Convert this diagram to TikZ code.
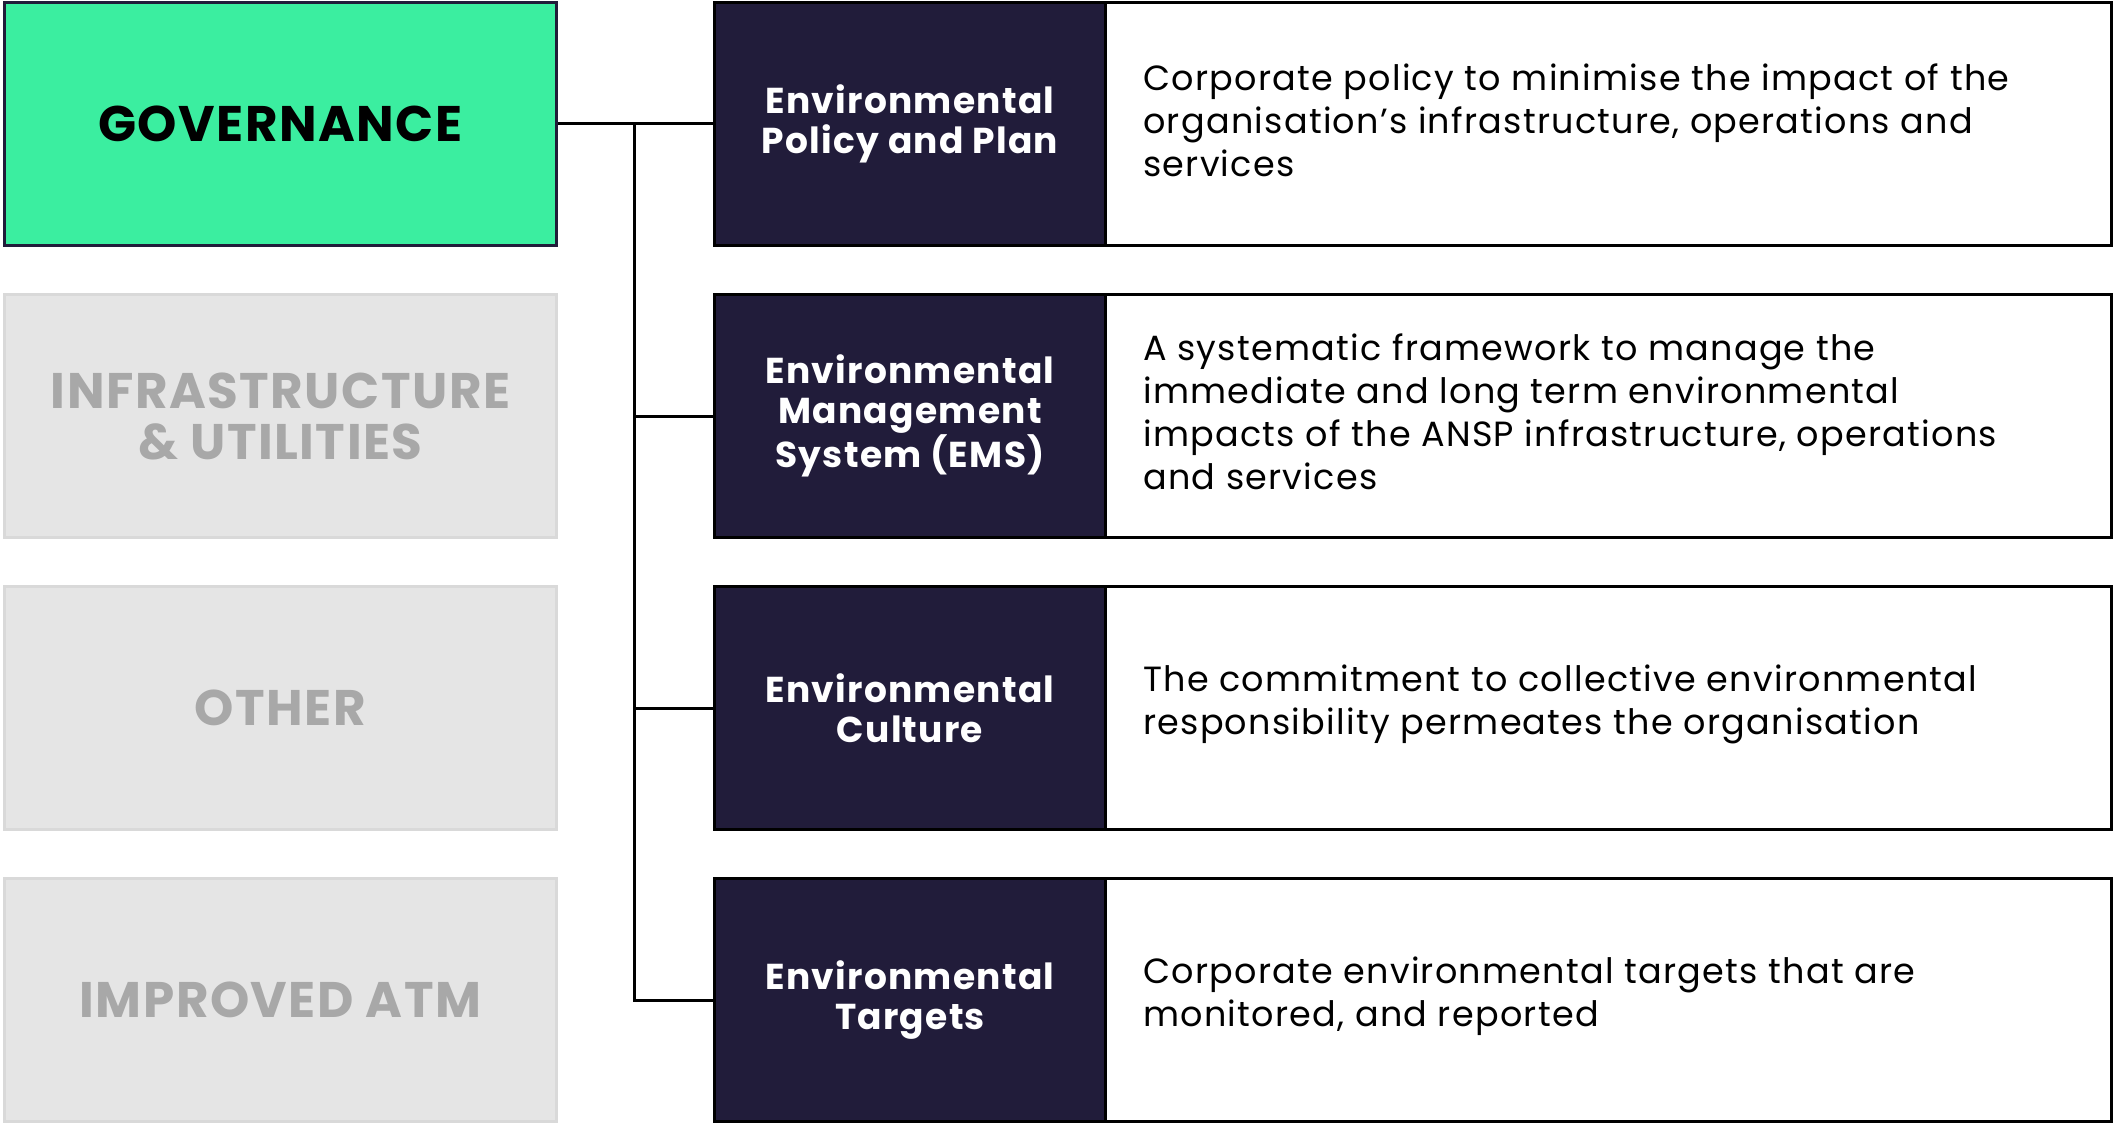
\documentclass[tikz,border=0pt]{standalone}
\usepackage{fontspec}
\setmainfont{Poppins}
\newfontfamily\catfont[LetterSpace=3]{Poppins}
\newfontfamily\headfont[LetterSpace=3.5]{Poppins}
\newfontfamily\descfont[LetterSpace=3.6]{Poppins}
\definecolor{gov}{HTML}{3BEEA0}
\definecolor{navy}{HTML}{211C3A}
\definecolor{grayfill}{HTML}{E5E5E5}
\definecolor{grayline}{HTML}{D9D9D9}
\definecolor{graytext}{HTML}{A8A8A8}
\begin{document}
\begin{tikzpicture}[x=1pt,y=-1pt,
 catbox/.style={draw, line width=3pt, minimum width=552pt, minimum height=243pt, anchor=north west, inner sep=0pt, align=center, font=\catfont\bfseries\fontsize{50}{51}\selectfont},
 govbox/.style={catbox, fill=gov, draw=navy, text=black},
 offbox/.style={catbox, fill=grayfill, draw=grayline, text=graytext},
 headbox/.style={draw=black, fill=navy, line width=3pt, minimum width=391pt, minimum height=243pt, anchor=north west, inner sep=0pt, align=center, text=white, font=\headfont\bfseries\fontsize{36}{40}\selectfont},
 descbox/.style={draw=black, fill=white, line width=3pt, minimum width=1006pt, minimum height=243pt, anchor=north west, inner sep=0pt},
 desctext/.style={anchor=west, align=left, inner sep=0pt, yshift=4pt, font=\descfont\fontsize{35}{43}\selectfont},
 link/.style={line width=3pt, draw=black}]
\useasboundingbox (0,0) rectangle (2114,1123);
% left categories
\node[govbox] (gov) at (3,1) {GOVERNANCE};
\node[offbox] (infra) at (3,293) {INFRASTRUCTURE\\\& UTILITIES};
\node[offbox] (other) at (3,585) {OTHER};
\node[offbox] (atm) at (3,877) {IMPROVED ATM};
% description boxes
\node[descbox] (d1) at (1104,1) {};
\node[descbox] (d2) at (1104,293) {};
\node[descbox] (d3) at (1104,585) {};
\node[descbox] (d4) at (1104,877) {};
% header boxes
\node[headbox] (h1) at (713,1) {Environmental\\Policy and Plan};
\node[headbox] (h2) at (713,293) {Environmental\\Management\\System (EMS)};
\node[headbox] (h3) at (713,585) {Environmental\\Culture};
\node[headbox] (h4) at (713,877) {Environmental\\Targets};
% description texts
\node[desctext] (t1) at ([xshift=39pt]d1.west) {Corporate policy to minimise the impact of the\\organisation’s infrastructure, operations and\\services};
\node[desctext] (t2) at ([xshift=39pt]d2.west) {A systematic framework to manage the\\immediate and long term environmental\\impacts of the ANSP infrastructure, operations\\and services};
\node[desctext] (t3) at ([xshift=39pt]d3.west) {The commitment to collective environmental\\responsibility permeates the organisation};
\node[desctext] (t4) at ([xshift=39pt]d4.west) {Corporate environmental targets that are\\monitored, and reported};
% connectors
\coordinate (trunk) at (634,0);
\draw[link] (gov.east) -- (h1.west);
\draw[link] (gov.east -| trunk) |- (h4.west);
\draw[link] (h2.west -| trunk) -- (h2.west);
\draw[link] (h3.west -| trunk) -- (h3.west);
\end{tikzpicture}
\end{document}
